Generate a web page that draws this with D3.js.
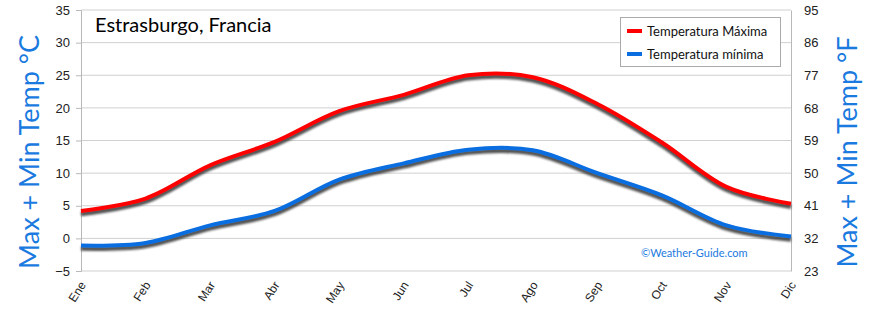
<!DOCTYPE html>
<html><head><meta charset="utf-8">
<script src="https://cdn.jsdelivr.net/npm/d3@7"></script>
<style>
body{margin:0;background:#fff;}
svg{display:block;font-family:"Comic Sans MS","Lato","DejaVu Sans",sans-serif;}
</style></head><body>
<svg id="c" width="870" height="312"></svg>
<script>
const months = ["Ene","Feb","Mar","Abr","May","Jun","Jul","Ago","Sep","Oct","Nov","Dic"];
const maxTemp = [4.2, 6.1, 11.2, 14.8, 19.5, 22.0, 25.0, 24.7, 20.6, 14.7, 7.9, 5.3];
const minTemp = [-1.1, -0.7, 2.0, 4.2, 9.0, 11.5, 13.6, 13.5, 10.0, 6.6, 2.0, 0.3];
const cTicks = [-5, 0, 5, 10, 15, 20, 25, 30, 35];
const fTicks = [23, 32, 41, 50, 59, 68, 77, 86, 95];
const title = "Estrasburgo, Francia";
const legendLabels = ["Temperatura Máxima", "Temperatura mínima"];
const colors = ["#ff0000", "#0a6ee0"];

const svg = d3.select("#c");
const L = 81, R = 791, T = 10, B = 271;
const x = d3.scalePoint().domain(months).range([L, R]);
const y = d3.scaleLinear().domain([-5, 35]).range([B, T]);
const yF = d3.scaleLinear().domain([23, 95]).range([B, T]);

const defs = svg.append("defs");
const f = defs.append("filter").attr("id","sh").attr("x","-5%").attr("y","-20%").attr("width","110%").attr("height","140%");
f.append("feGaussianBlur").attr("stdDeviation", 1.2);

// grid
svg.append("g").selectAll("line").data(cTicks).join("line")
  .attr("x1", L).attr("x2", R).attr("y1", d => y(d)).attr("y2", d => y(d))
  .attr("stroke", "#d0d0d0").attr("stroke-width", 1);

// left axis
const la = svg.append("g").attr("transform", `translate(${L},0)`)
  .call(d3.axisLeft(y).tickValues(cTicks).tickSize(5).tickPadding(6));
la.select(".domain").attr("stroke", "#b8b8b8");
la.selectAll(".tick line").attr("stroke", "#b8b8b8");
la.selectAll("text").attr("font-size", 13).attr("fill", "#222");

// right axis
const ra = svg.append("g").attr("transform", `translate(${R},0)`)
  .call(d3.axisRight(yF).tickValues(fTicks).tickSize(0).tickPadding(13));
ra.select(".domain").attr("stroke", "#b8b8b8");
ra.selectAll("text").attr("font-size", 13).attr("fill", "#222");

// bottom axis labels
const ba = svg.append("g").attr("transform", `translate(0,${B})`)
  .call(d3.axisBottom(x).tickSize(0).tickPadding(0));
ba.select(".domain").remove();
ba.selectAll("text").attr("font-size", 12).attr("fill", "#222")
  .attr("text-anchor", "end").attr("dy", 0)
  .attr("transform", "translate(5,14) rotate(-57)");

// lines
const line = d3.line().x((d,i) => x(months[i])).y(d => y(d)).curve(d3.curveCatmullRom.alpha(0.5));
[maxTemp, minTemp].forEach((s, k) => {
  svg.append("path").attr("d", line(s)).attr("fill","none")
    .attr("stroke","#333").attr("stroke-width",4.5).attr("opacity",0.85)
    .attr("transform","translate(0,3)").attr("filter","url(#sh)");
  svg.append("path").attr("d", line(s)).attr("fill","none")
    .attr("stroke", colors[k]).attr("stroke-width",4);
});

// title
svg.append("text").attr("x", 95).attr("y", 32).attr("font-size", 20).attr("fill","#000").text(title);

// legend
const lg = svg.append("g");
lg.append("rect").attr("x", 620.5).attr("y", 17.5).attr("width", 160).attr("height", 49)
  .attr("fill","#fff").attr("stroke","#aaa");
legendLabels.forEach((t, i) => {
  const yy = 31 + i*23;
  lg.append("line").attr("x1", 627).attr("x2", 642).attr("y1", yy).attr("y2", yy)
    .attr("stroke", colors[i]).attr("stroke-width", 4);
  lg.append("text").attr("x", 647).attr("y", yy + 4.5).attr("font-size", 13).attr("fill","#111").text(t);
});

// axis titles
svg.append("text").attr("transform", `translate(39,152) rotate(-90)`)
  .attr("text-anchor","middle").attr("font-size", 27).attr("fill", "#1a7ae0").text("Max + Min Temp °C");
svg.append("text").attr("transform", `translate(857,152) rotate(-90)`)
  .attr("text-anchor","middle").attr("font-size", 27).attr("fill", "#1a7ae0").text("Max + Min Temp °F");

// watermark
svg.append("text").attr("x", 641).attr("y", 257).attr("font-size", 11).attr("fill","#1a7ae0").text("©Weather-Guide.com");
</script>
</body></html>
